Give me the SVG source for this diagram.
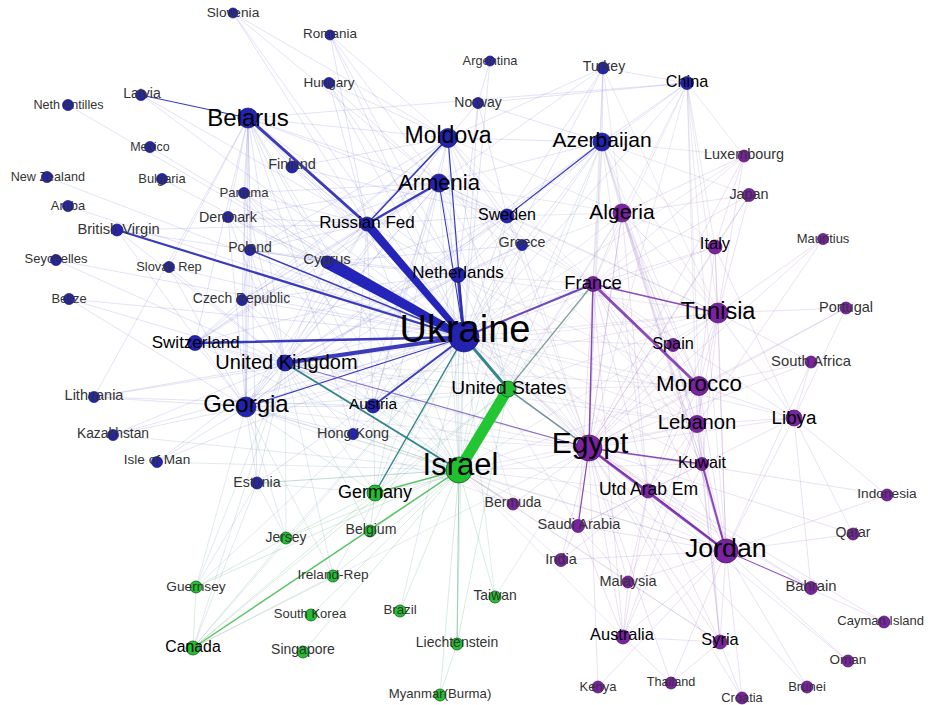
<svg xmlns="http://www.w3.org/2000/svg" width="928" height="705" viewBox="0 0 928 705">
<style>
.bg{fill:#fff}
.e1{fill:none;stroke:#7a7ad8;stroke-opacity:.24;stroke-width:.9}
.e2{fill:none;stroke:#a47ac8;stroke-opacity:.25;stroke-width:.9}
.e3{fill:none;stroke:#70b888;stroke-opacity:.3;stroke-width:.9}
.e4{fill:none;stroke:#9a8cc4;stroke-opacity:.22;stroke-width:.9}
.e5{fill:none;stroke:#7aa0b4;stroke-opacity:.25;stroke-width:.9}
.mb{stroke:#2a2ab6;stroke-opacity:.92;stroke-linecap:round}
.mp{stroke:#7a2aaa;stroke-opacity:.85;stroke-linecap:round}
.mt{stroke:#1f7a82;stroke-opacity:.9;stroke-linecap:round}
.mg{stroke:#22c633;stroke-linecap:round}
.nb{fill:#2323b0;stroke:#15156e;stroke-width:.7}
.np{fill:#7a22a2;stroke:#4a1262;stroke-width:.7}
.ng{fill:#22c030;stroke:#14601c;stroke-width:.8}
text{font-family:"Liberation Sans",Arial,sans-serif;text-anchor:middle}
.s{fill:#333}
.m{fill:#000}
</style>
<rect class="bg" width="928" height="705"/>
<g id="connectors">
<path class="e1" d="M464 337L233 13M464 337L330 35M464 337L329 83M464 337L478 103M464 337L603 68M464 337L687 83M464 337L448 138M464 337L602 142M464 337L292 167M464 337L244 193M464 337L228 217M464 337L507 216M464 337L522 245M464 337L56 260M464 337L169 267M464 337L69 299M464 337L242 300M464 337L94 397M464 337L113 435M464 337L353 434M464 337L157 462M464 337L257 483M464 337L248 118M464 337L150 147M464 337L162 179M464 337L47 177M464 337L68 206M464 337L141 95M464 337L68 105M464 337L490 61"/>
<path class="e1" d="M248 118L228 217M248 118L244 193M248 118L250 250M248 118L242 300M248 118L195 343M248 118L285 363M248 118L246 407M248 118L373 406M248 118L292 167M248 118L448 138M248 118L439 183M248 118L353 434M248 118L687 83M248 118L458 275M248 118L507 216M248 118L257 483M248 118L169 267M248 118L327 262M248 118L94 397"/>
<path class="e1" d="M448 138L330 35M448 138L329 83M448 138L478 103M448 138L439 183M448 138L507 216M448 138L458 275M448 138L522 245M448 138L602 142M448 138L246 407M448 138L285 363M448 138L242 300M448 138L195 343M448 138L373 406M448 138L603 68M448 138L292 167M448 138L250 250M448 138L327 262M448 138L233 13"/>
<path class="e1" d="M439 183L507 216M439 183L458 275M439 183L522 245M439 183L327 262M439 183L285 363M439 183L246 407M439 183L602 142M439 183L329 83M439 183L330 35M439 183L373 406M439 183L228 217M439 183L244 193M439 183L250 250M439 183L242 300M439 183L195 343M439 183L353 434"/>
<path class="e1" d="M602 142L603 68M602 142L687 83M602 142L522 245M602 142L458 275M602 142L478 103M602 142L246 407M602 142L285 363M687 83L603 68M687 83L478 103M687 83L507 216M603 68L439 183M603 68L507 216M329 83L367 224M329 83L458 275M330 35L367 224M330 35L458 275M478 103L490 61M478 103L507 216M478 103L458 275M233 13L439 183M233 13L367 224"/>
<path class="e1" d="M507 216L458 275M507 216L522 245M507 216L285 363M507 216L246 407M507 216L242 300M522 245L458 275M522 245L327 262M522 245L285 363M458 275L285 363M458 275L246 407M458 275L195 343M458 275L327 262M458 275L242 300M458 275L250 250M458 275L373 406M327 262L285 363M327 262L246 407M327 262L195 343M327 262L117 230M327 262L250 250"/>
<path class="e1" d="M367 224L292 167M367 224L228 217M367 224L244 193M367 224L250 250M367 224L242 300M367 224L195 343M367 224L285 363M367 224L246 407M367 224L458 275M367 224L507 216M367 224L373 406M367 224L353 434M367 224L141 95M292 167L507 216M244 193L285 363M244 193L246 407M244 193L327 262M228 217L285 363M228 217L246 407M228 217L327 262M250 250L285 363M250 250L246 407M250 250L242 300M242 300L246 407M242 300L285 363M242 300L195 343M169 267L246 407M169 267L285 363M195 343L285 363M195 343L246 407"/>
<path class="e1" d="M285 363L246 407M285 363L373 406M285 363L113 435M285 363L94 397M285 363L117 230M285 363L353 434M285 363L257 483M246 407L94 397M246 407L113 435M246 407L157 462M246 407L257 483M246 407L353 434M246 407L373 406M94 397L373 406M157 462L285 363M69 299L285 363M56 260L285 363M69 299L246 407M117 230L367 224M117 230L246 407"/>
<path class="e4" d="M464 337L622 213M464 337L718 313M464 337L589 448M464 337L697 424M464 337L699 386M464 337L726 551M464 337L673 345M464 337L715 247M464 337L744 156M464 337L702 464M464 337L648 491M464 337L794 418M464 337L513 504M464 337L578 526M248 118L589 448M448 138L589 448M448 138L593 284M448 138L622 213M439 183L593 284M439 183L589 448M439 183L622 213M439 183L718 313M439 183L697 424"/>
<path class="e4" d="M602 142L622 213M602 142L593 284M602 142L589 448M602 142L726 551M602 142L718 313M602 142L699 386M602 142L697 424M602 142L744 156M602 142L715 247M602 142L749 195M602 142L702 464M602 142L648 491M687 83L622 213M687 83L715 247M687 83L593 284M687 83L589 448M687 83L726 551M687 83L744 156M687 83L718 313M687 83L697 424M687 83L699 386M603 68L622 213M603 68L593 284M603 68L589 448M603 68L718 313"/>
<path class="e4" d="M507 216L593 284M507 216L589 448M507 216L718 313M507 216L622 213M522 245L589 448M522 245L593 284M458 275L593 284M458 275L589 448M458 275L622 213M458 275L718 313M458 275L699 386M458 275L697 424M458 275L726 551M327 262L589 448M367 224L589 448M195 343L589 448M285 363L593 284M285 363L726 551M285 363L718 313M285 363L697 424M285 363L699 386M246 407L589 448M246 407L593 284M246 407L726 551M246 407L718 313M246 407L513 504M373 406L589 448M353 434L589 448"/>
<path class="e4" d="M459 470L726 551M459 470L513 504M459 470L578 526M459 470L561 560M459 470L623 637M459 470L593 284M459 470L697 424M459 470L699 386M459 470L628 582M459 470L702 464M459 470L648 491M459 470L720 642M459 470L718 313M459 470L622 213M375 493L589 448M375 493L593 284M193 648L589 448M495 597L589 448M508 389L726 551M508 389L697 424M508 389L699 386M508 389L718 313M508 389L622 213M513 504L285 363"/>
<path class="e5" d="M464 337L459 470M464 337L370 531M464 337L286 538M464 337L193 648M464 337L333 576M464 337L495 597M464 337L457 644M464 337L196 587M248 118L459 470M448 138L459 470M448 138L508 389M439 183L459 470M439 183L508 389M439 183L375 493M602 142L459 470M602 142L508 389M507 216L459 470M522 245L459 470M458 275L459 470M458 275L508 389M458 275L375 493M327 262L459 470M367 224L459 470M244 193L459 470M228 217L459 470M242 300L459 470M195 343L459 470"/>
<path class="e5" d="M285 363L508 389M285 363L375 493M285 363L286 538M285 363L196 587M285 363L370 531M285 363L193 648M246 407L459 470M246 407L508 389M246 407L375 493M246 407L286 538M246 407L196 587M373 406L459 470M373 406L508 389M373 406L375 493M353 434L459 470M113 435L459 470M157 462L459 470M257 483L459 470M257 483L193 648M257 483L196 587M257 483L375 493M257 483L286 538M333 576L285 363M333 576L246 407M400 611L464 337"/>
<path class="e3" d="M459 470L370 531M459 470L286 538M459 470L333 576M459 470L196 587M459 470L495 597M459 470L311 615M459 470L400 611M459 470L303 652M459 470L440 695M459 470L257 483M459 470L353 434M375 493L508 389M375 493L286 538M375 493L370 531M375 493L193 648M193 648L286 538M193 648L196 587M193 648L333 576M193 648L508 389M457 644L508 389M196 587L286 538M440 695L457 644"/>
<path class="e2" d="M589 448L622 213M589 448L718 313M589 448L699 386M589 448L697 424M589 448L561 560M589 448L628 582M589 448L623 637M589 448L720 642M589 448L794 418M589 448L673 345M589 448L715 247M589 448L513 504M589 448L811 588M589 448L853 534M589 448L598 687M589 448L671 683M589 448L744 156M589 448L749 195M589 448L846 308M589 448L811 362M589 448L887 495M589 448L884 622M589 448L848 661M589 448L807 687M589 448L742 698"/>
<path class="e2" d="M726 551L697 424M726 551L699 386M726 551L718 313M726 551L794 418M726 551L853 534M726 551L887 495M726 551L720 642M726 551L628 582M726 551L623 637M726 551L578 526M726 551L561 560M726 551L742 698M726 551L807 687M726 551L848 661M726 551L884 622M726 551L671 683M726 551L811 362M726 551L622 213M726 551L593 284M726 551L673 345M726 551L715 247M726 551L598 687"/>
<path class="e2" d="M718 313L622 213M718 313L699 386M718 313L697 424M718 313L673 345M718 313L715 247M718 313L846 308M718 313L744 156M718 313L749 195M718 313L794 418M718 313L811 362M718 313L702 464M718 313L648 491M718 313L823 239M699 386L622 213M699 386L673 345M699 386L697 424M699 386L794 418M699 386L702 464M699 386L648 491M699 386L811 362M699 386L846 308M699 386L720 642"/>
<path class="e2" d="M697 424L702 464M697 424L648 491M697 424L720 642M697 424L622 213M697 424L593 284M697 424L794 418M697 424L623 637M697 424L628 582M794 418L811 362M794 418L846 308M794 418L853 534M794 418L811 588M794 418L887 495M794 418L702 464M622 213L593 284M622 213L744 156M622 213L749 195M622 213L715 247M622 213L673 345M622 213L702 464M622 213L648 491M622 213L578 526"/>
<path class="e2" d="M593 284L673 345M593 284L715 247M593 284L744 156M593 284L749 195M593 284L648 491M593 284L702 464M593 284L578 526M593 284L623 637M593 284L794 418M715 247L749 195M715 247L744 156M715 247L699 386M715 247L794 418M823 239L589 448M823 239L697 424M702 464L648 491M702 464L720 642M702 464L623 637M702 464L578 526M648 491L578 526M648 491L561 560M648 491L628 582M648 491L623 637M648 491L720 642M648 491L811 588M578 526L561 560M578 526L628 582M578 526L623 637M623 637L628 582M623 637L720 642M623 637L671 683M720 642L742 698M720 642L671 683M720 642L628 582"/>
<line class="mb" x1="141" y1="95" x2="248" y2="118" stroke-width="1.1" stroke-opacity=".45"/>
<line class="mb" x1="602" y1="142" x2="507" y2="216" stroke-width="1.1" stroke-opacity=".5"/>
<line class="mb" x1="246" y1="407" x2="464" y2="337" stroke-width="1.2" stroke-opacity=".55"/>
<line class="mb" x1="439" y1="183" x2="464" y2="337" stroke-width="1.1" stroke-opacity=".55"/>
<line class="mb" x1="448" y1="138" x2="464" y2="337" stroke-width="1.1" stroke-opacity=".55"/>
<line class="mb" x1="250" y1="250" x2="464" y2="337" stroke-width="1.5"/>
<line class="mb" x1="248" y1="118" x2="367" y2="224" stroke-width="3"/>
<line class="mb" x1="448" y1="138" x2="367" y2="224" stroke-width="1.7"/>
<line class="mb" x1="439" y1="183" x2="367" y2="224" stroke-width="2.2"/>
<line class="mb" x1="458" y1="275" x2="464" y2="337" stroke-width="3"/>
<line class="mb" x1="117" y1="230" x2="464" y2="337" stroke-width="2.2"/>
<line class="mb" x1="195" y1="343" x2="464" y2="337" stroke-width="2.5"/>
<line class="mb" x1="285" y1="363" x2="464" y2="337" stroke-width="4"/>
<line class="mb" x1="373" y1="406" x2="464" y2="337" stroke-width="2"/>
<polygon fill="#2424b8" points="330.5,256.5 465.6,334.1 462.4,339.9 323.5,267.5"/>
<circle fill="#2424b8" cx="327" cy="262" r="6.3"/>
<polygon fill="#2424b8" points="370.4,221.1 466.3,335 461.7,339 363.6,226.9"/>
<line stroke="#6644c0" stroke-opacity=".75" x1="285" y1="363" x2="589" y2="448" stroke-width="1.2"/>
<line class="mt" x1="285" y1="363" x2="459" y2="470" stroke-width="2"/>
<line class="mt" x1="464" y1="337" x2="375" y2="493" stroke-width="1.5" stroke-opacity=".65"/>
<line class="mt" x1="464" y1="337" x2="508" y2="389" stroke-width="3"/>
<line stroke="#4a7a7a" stroke-opacity=".8" x1="508" y1="389" x2="589" y2="448" stroke-width="1.5"/>
<line stroke="#5a8a80" stroke-opacity=".8" x1="593" y1="284" x2="508" y2="389" stroke-width="1.2"/>
<line stroke="#5228b0" stroke-opacity=".85" x1="464" y1="337" x2="593" y2="284" stroke-width="2"/>
<line class="mp" x1="593" y1="284" x2="699" y2="386" stroke-width="3"/>
<line class="mp" x1="593" y1="284" x2="718" y2="313" stroke-width="1.5" stroke-opacity=".6"/>
<line class="mp" x1="593" y1="284" x2="589" y2="448" stroke-width="1.5" stroke-opacity=".6"/>
<line class="mp" x1="589" y1="448" x2="726" y2="551" stroke-width="2.6"/>
<line class="mp" x1="702" y1="464" x2="726" y2="551" stroke-width="2"/>
<line class="mp" x1="648" y1="491" x2="726" y2="551" stroke-width="1.5" stroke-opacity=".7"/>
<line class="mp" x1="589" y1="448" x2="702" y2="464" stroke-width="1.5" stroke-opacity=".7"/>
<line class="mp" x1="589" y1="448" x2="648" y2="491" stroke-width="1.5" stroke-opacity=".7"/>
<line class="mp" x1="589" y1="448" x2="578" y2="526" stroke-width="1.2" stroke-opacity=".7"/>
<line class="mp" x1="726" y1="551" x2="811" y2="588" stroke-width="1" stroke-opacity=".6"/>
<line stroke="#7cc8a0" stroke-opacity=".8" x1="459" y1="470" x2="457" y2="644" stroke-width="1"/>
<line stroke="#38b84a" stroke-opacity=".85" x1="459" y1="470" x2="375" y2="493" stroke-width="1.5"/>
<line stroke="#38b84a" stroke-opacity=".85" x1="459" y1="470" x2="193" y2="648" stroke-width="1.5"/>
<line class="mg" x1="508" y1="389" x2="459" y2="470" stroke-width="11"/>
</g>
<g id="n-slovenia"><circle class="nb" cx="233" cy="13" r="5"/><text class="s" x="233" y="17" font-size="13.7">Slovenia</text></g>
<g id="n-romania"><circle class="nb" cx="330" cy="35" r="5"/><text class="s" x="330" y="38" font-size="13.5">Romania</text></g>
<g id="n-hungary"><circle class="nb" cx="329" cy="83" r="5.5"/><text class="s" x="329" y="87" font-size="13.5">Hungary</text></g>
<g id="n-argentina"><circle class="nb" cx="490" cy="61" r="5"/><text class="s" x="490" y="64.6" font-size="12.8">Argentina</text></g>
<g id="n-norway"><circle class="nb" cx="478" cy="103" r="5.5"/><text class="s" x="478" y="107" font-size="14">Norway</text></g>
<g id="n-turkey"><circle class="nb" cx="603" cy="68" r="6"/><text class="s" x="604" y="71" font-size="14">Turkey</text></g>
<g id="n-china"><circle class="nb" cx="687" cy="83" r="6.5"/><text class="m" x="687" y="86.8" font-size="16.2">China</text></g>
<g id="n-latvia"><circle class="nb" cx="141" cy="95" r="5.5"/><text class="s" x="142" y="98" font-size="14">Latvia</text></g>
<g id="n-nethantilles"><circle class="nb" cx="68" cy="105" r="5.5"/><text class="s" x="68.5" y="108.5" font-size="12.6">Neth Antilles</text></g>
<g id="n-belarus"><circle class="nb" cx="248" cy="118" r="10"/><text class="m" x="248" y="125.6" font-size="24">Belarus</text></g>
<g id="n-moldova"><circle class="nb" cx="448" cy="138" r="9.5"/><text class="m" x="448" y="143.3" font-size="23">Moldova</text></g>
<g id="n-mexico"><circle class="nb" cx="150" cy="147" r="5.5"/><text class="s" x="150" y="150.5" font-size="12.5">Mexico</text></g>
<g id="n-finland"><circle class="nb" cx="292" cy="167" r="6"/><text class="s" x="292" y="169" font-size="14.5">Finland</text></g>
<g id="n-azerbaijan"><circle class="nb" cx="602" cy="142" r="9"/><text class="m" x="602" y="146.6" font-size="21">Azerbaijan</text></g>
<g id="n-armenia"><circle class="nb" cx="439" cy="183" r="9"/><text class="m" x="439" y="190" font-size="22">Armenia</text></g>
<g id="n-newzealand"><circle class="nb" cx="47" cy="177" r="5.5"/><text class="s" x="47.8" y="180.5" font-size="12.6">New Zealand</text></g>
<g id="n-bulgaria"><circle class="nb" cx="162" cy="179" r="5.5"/><text class="s" x="162" y="182.6" font-size="12.9">Bulgaria</text></g>
<g id="n-panama"><circle class="nb" cx="244" cy="193" r="5.5"/><text class="s" x="244" y="196.8" font-size="13.2">Panama</text></g>
<g id="n-denmark"><circle class="nb" cx="228" cy="217" r="5.5"/><text class="s" x="228" y="222" font-size="14.3">Denmark</text></g>
<g id="n-russianfed"><circle class="nb" cx="367" cy="224" r="7"/><text class="m" x="367" y="228" font-size="17">Russian Fed</text></g>
<g id="n-sweden"><circle class="nb" cx="507" cy="216" r="7"/><text class="m" x="507" y="219.8" font-size="16">Sweden</text></g>
<g id="n-aruba"><circle class="nb" cx="68" cy="206" r="5.5"/><text class="s" x="68" y="209.6" font-size="12.9">Aruba</text></g>
<g id="n-britishvirgin"><circle class="nb" cx="117" cy="230" r="6"/><text class="s" x="118.5" y="234.3" font-size="14.7">British Virgin</text></g>
<g id="n-greece"><circle class="nb" cx="522" cy="245" r="5.5"/><text class="s" x="522" y="247" font-size="14.3">Greece</text></g>
<g id="n-poland"><circle class="nb" cx="250" cy="250" r="5.5"/><text class="s" x="250" y="252" font-size="14">Poland</text></g>
<g id="n-seychelles"><circle class="nb" cx="56" cy="260" r="5.5"/><text class="s" x="56" y="262.7" font-size="13">Seychelles</text></g>
<g id="n-cyprus"><circle class="nb" cx="327" cy="262" r="6"/><text class="s" x="327" y="264.4" font-size="15">Cyprus</text></g>
<g id="n-slovakrep"><circle class="nb" cx="169" cy="267" r="5.5"/><text class="s" x="169" y="270.6" font-size="12.8">Slovak Rep</text></g>
<g id="n-netherlands"><circle class="nb" cx="458" cy="275" r="7.5"/><text class="m" x="458" y="278" font-size="17">Netherlands</text></g>
<g id="n-belize"><circle class="nb" cx="69" cy="299" r="5.5"/><text class="s" x="69" y="302.6" font-size="12.9">Belize</text></g>
<g id="n-czechrepublic"><circle class="nb" cx="242" cy="300" r="5.5"/><text class="s" x="241.5" y="303" font-size="13.9">Czech Republic</text></g>
<g id="n-ukraine"><circle class="nb" cx="464" cy="337" r="15"/><text class="m" x="465" y="342" font-size="38">Ukraine</text></g>
<g id="n-switzerland"><circle class="nb" cx="195" cy="343" r="7.5"/><text class="m" x="195.7" y="348" font-size="17">Switzerland</text></g>
<g id="n-unitedkingdom"><circle class="nb" cx="285" cy="363" r="8"/><text class="m" x="286.5" y="369.2" font-size="20">United Kingdom</text></g>
<g id="n-lithuania"><circle class="nb" cx="94" cy="397" r="5.5"/><text class="s" x="94" y="400.2" font-size="14.5">Lithuania</text></g>
<g id="n-georgia"><circle class="nb" cx="246" cy="407" r="10"/><text class="m" x="246" y="411.6" font-size="24">Georgia</text></g>
<g id="n-austria"><circle class="nb" cx="373" cy="406" r="7"/><text class="m" x="373" y="408.6" font-size="15.5">Austria</text></g>
<g id="n-kazakhstan"><circle class="nb" cx="113" cy="435" r="5.5"/><text class="s" x="113" y="438" font-size="13.8">Kazakhstan</text></g>
<g id="n-hongkong"><circle class="nb" cx="353" cy="434" r="5.5"/><text class="s" x="353" y="438.2" font-size="14.4">Hong Kong</text></g>
<g id="n-isleofman"><circle class="nb" cx="157" cy="462" r="5.5"/><text class="s" x="157" y="464" font-size="13.6">Isle of Man</text></g>
<g id="n-estonia"><circle class="nb" cx="257" cy="483" r="6"/><text class="s" x="257" y="487" font-size="14.2">Estonia</text></g>
<g id="n-unitedstates"><circle class="ng" cx="508" cy="389" r="8" stroke="#1a4a2a" stroke-width="1"/><text class="m" x="508.8" y="393.9" font-size="19.2">United States</text></g>
<g id="n-israel"><circle class="ng" cx="459" cy="470" r="13"/><text class="m" x="460.5" y="475" font-size="31">Israel</text></g>
<g id="n-germany"><circle class="ng" cx="375" cy="493" r="8"/><text class="m" x="375" y="497.5" font-size="18">Germany</text></g>
<g id="n-belgium"><circle class="ng" cx="370" cy="531" r="6"/><text class="s" x="371" y="534" font-size="14.1">Belgium</text></g>
<g id="n-jersey"><circle class="ng" cx="286" cy="538" r="6"/><text class="s" x="286" y="542" font-size="13.9">Jersey</text></g>
<g id="n-irelandrep"><circle class="ng" cx="333" cy="576" r="6"/><text class="s" x="333" y="579" font-size="13.6">Ireland-Rep</text></g>
<g id="n-guernsey"><circle class="ng" cx="196" cy="587" r="6"/><text class="s" x="196" y="591" font-size="13.7">Guernsey</text></g>
<g id="n-taiwan"><circle class="ng" cx="495" cy="597" r="6"/><text class="s" x="495" y="600" font-size="13.9">Taiwan</text></g>
<g id="n-southkorea"><circle class="ng" cx="311" cy="615" r="6"/><text class="s" x="310" y="617.7" font-size="13">South Korea</text></g>
<g id="n-brazil"><circle class="ng" cx="400" cy="611" r="6"/><text class="s" x="400" y="613.8" font-size="13.3">Brazil</text></g>
<g id="n-canada"><circle class="ng" cx="193" cy="648" r="7"/><text class="m" x="193" y="651.7" font-size="15.8">Canada</text></g>
<g id="n-liechtenstein"><circle class="ng" cx="457" cy="644" r="6"/><text class="s" x="457" y="647" font-size="14">Liechtenstein</text></g>
<g id="n-singapore"><circle class="ng" cx="303" cy="652" r="6"/><text class="s" x="303" y="654" font-size="14">Singapore</text></g>
<g id="n-myanmar"><circle class="ng" cx="440" cy="695" r="6"/><text class="s" x="440" y="697.8" font-size="13.2">Myanmar(Burma)</text></g>
<g id="n-luxembourg"><circle class="np" cx="744" cy="156" r="6"/><text class="s" x="744" y="159.2" font-size="14.4">Luxembourg</text></g>
<g id="n-japan"><circle class="np" cx="749" cy="195" r="6.5"/><text class="s" x="749" y="199.2" font-size="14.4">Japan</text></g>
<g id="n-algeria"><circle class="np" cx="622" cy="213" r="9"/><text class="m" x="622" y="218.6" font-size="21">Algeria</text></g>
<g id="n-italy"><circle class="np" cx="715" cy="247" r="7"/><text class="m" x="715" y="249" font-size="16.5">Italy</text></g>
<g id="n-mauritius"><circle class="np" cx="823" cy="239" r="5.5"/><text class="s" x="823" y="242.7" font-size="13">Mauritius</text></g>
<g id="n-france"><circle class="np" cx="593" cy="284" r="7.5"/><text class="m" x="593" y="288.7" font-size="18.5">France</text></g>
<g id="n-tunisia"><circle class="np" cx="718" cy="313" r="10"/><text class="m" x="718" y="318.5" font-size="23.5">Tunisia</text></g>
<g id="n-portugal"><circle class="np" cx="846" cy="308" r="6"/><text class="s" x="846" y="312.2" font-size="14.5">Portugal</text></g>
<g id="n-spain"><circle class="np" cx="673" cy="345" r="6.5"/><text class="m" x="673" y="348.9" font-size="16.3">Spain</text></g>
<g id="n-southafrica"><circle class="np" cx="811" cy="362" r="6"/><text class="s" x="811" y="366.3" font-size="14.8">South Africa</text></g>
<g id="n-morocco"><circle class="np" cx="699" cy="386" r="9.5"/><text class="m" x="699" y="391.1" font-size="22.4">Morocco</text></g>
<g id="n-libya"><circle class="np" cx="794" cy="418" r="8"/><text class="m" x="794" y="423.8" font-size="18.8">Libya</text></g>
<g id="n-lebanon"><circle class="np" cx="697" cy="424" r="8.5"/><text class="m" x="697" y="429.3" font-size="20.2">Lebanon</text></g>
<g id="n-egypt"><circle class="np" cx="589" cy="448" r="13"/><text class="m" x="590" y="453" font-size="30">Egypt</text></g>
<g id="n-kuwait"><circle class="np" cx="702" cy="464" r="6.5"/><text class="m" x="702" y="467.8" font-size="16">Kuwait</text></g>
<g id="n-utdarabem"><circle class="np" cx="648" cy="491" r="7"/><text class="m" x="648.5" y="495.3" font-size="17.5">Utd Arab Em</text></g>
<g id="n-indonesia"><circle class="np" cx="887" cy="495" r="6"/><text class="s" x="887" y="498" font-size="13.7">Indonesia</text></g>
<g id="n-bermuda"><circle class="np" cx="513" cy="504" r="6"/><text class="s" x="513" y="507" font-size="14">Bermuda</text></g>
<g id="n-saudiarabia"><circle class="np" cx="578" cy="526" r="6.5"/><text class="s" x="579" y="529.3" font-size="14.6">Saudi Arabia</text></g>
<g id="n-qatar"><circle class="np" cx="853" cy="534" r="6"/><text class="s" x="853" y="537" font-size="14">Qatar</text></g>
<g id="n-jordan"><circle class="np" cx="726" cy="551" r="12"/><text class="m" x="725.8" y="557.3" font-size="26.7">Jordan</text></g>
<g id="n-india"><circle class="np" cx="561" cy="560" r="6.5"/><text class="s" x="561" y="564.2" font-size="14.5">India</text></g>
<g id="n-malaysia"><circle class="np" cx="628" cy="582" r="6"/><text class="s" x="628" y="586" font-size="14.5">Malaysia</text></g>
<g id="n-bahrain"><circle class="np" cx="811" cy="588" r="6.5"/><text class="s" x="811" y="591.3" font-size="14.8">Bahrain</text></g>
<g id="n-caymanisland"><circle class="np" cx="884" cy="622" r="6"/><text class="s" x="880.7" y="624.7" font-size="13">Cayman Island</text></g>
<g id="n-australia"><circle class="np" cx="623" cy="637" r="7"/><text class="m" x="622" y="640" font-size="16.4">Australia</text></g>
<g id="n-syria"><circle class="np" cx="720" cy="642" r="7"/><text class="m" x="720" y="645" font-size="16.4">Syria</text></g>
<g id="n-oman"><circle class="np" cx="848" cy="661" r="6"/><text class="s" x="848" y="664" font-size="13.5">Oman</text></g>
<g id="n-thailand"><circle class="np" cx="671" cy="683" r="6"/><text class="s" x="671" y="685.6" font-size="12.7">Thailand</text></g>
<g id="n-brunei"><circle class="np" cx="807" cy="687" r="6"/><text class="s" x="807" y="690.7" font-size="13">Brunei</text></g>
<g id="n-kenya"><circle class="np" cx="598" cy="687" r="6"/><text class="s" x="598" y="690.7" font-size="13">Kenya</text></g>
<g id="n-croatia"><circle class="np" cx="742" cy="698" r="6"/><text class="s" x="742" y="701.6" font-size="12.9">Croatia</text></g>
</svg>
